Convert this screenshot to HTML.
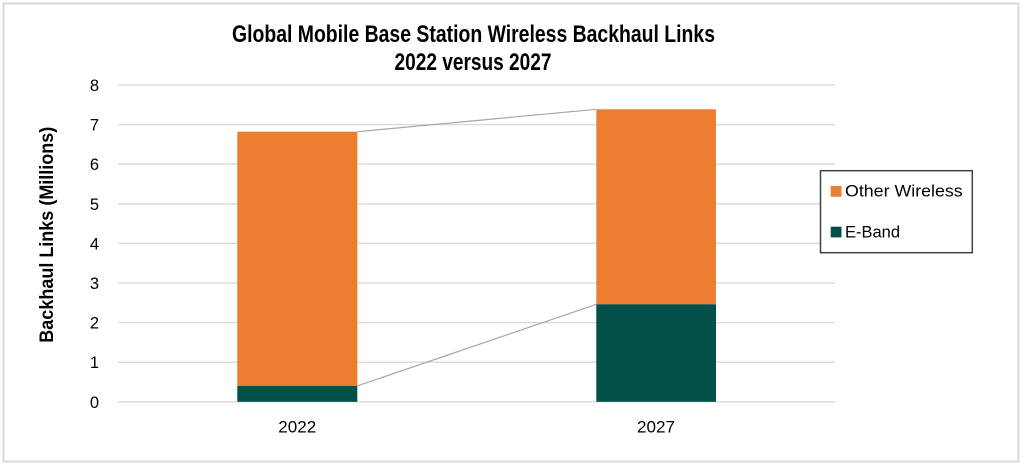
<!DOCTYPE html>
<html>
<head>
<meta charset="utf-8">
<style>
html,body{margin:0;padding:0;background:#fff;}
svg{display:block;}
text{font-family:"Liberation Sans",Arial,sans-serif;fill:#000;}
</style>
</head>
<body>
<svg width="1024" height="465" viewBox="0 0 1024 465" xmlns="http://www.w3.org/2000/svg">
  <rect x="0" y="0" width="1024" height="465" fill="#fff"/>
  <!-- outer border -->
  <rect x="3.5" y="3.5" width="1015" height="458" fill="none" stroke="#d9d9d9" stroke-width="2"/>

  <!-- title -->
  <text x="473.5" y="42" font-size="24" font-weight="bold" text-anchor="middle" textLength="483" lengthAdjust="spacingAndGlyphs">Global Mobile Base Station Wireless Backhaul Links</text>
  <text x="473" y="70" font-size="24" font-weight="bold" text-anchor="middle" textLength="157" lengthAdjust="spacingAndGlyphs">2022 versus 2027</text>

  <!-- gridlines -->
  <g stroke="#d9d9d9" stroke-width="1.3">
    <line x1="118" y1="85" x2="835" y2="85"/>
    <line x1="118" y1="124.6" x2="835" y2="124.6"/>
    <line x1="118" y1="164.2" x2="835" y2="164.2"/>
    <line x1="118" y1="203.8" x2="835" y2="203.8"/>
    <line x1="118" y1="243.4" x2="835" y2="243.4"/>
    <line x1="118" y1="283" x2="835" y2="283"/>
    <line x1="118" y1="322.6" x2="835" y2="322.6"/>
    <line x1="118" y1="362.2" x2="835" y2="362.2"/>
    <line x1="118" y1="401.8" x2="835" y2="401.8"/>
  </g>

  <!-- y tick labels -->
  <g font-size="16.5" text-anchor="end">
    <text x="99" y="91">8</text>
    <text x="99" y="130.6">7</text>
    <text x="99" y="170.2">6</text>
    <text x="99" y="209.8">5</text>
    <text x="99" y="249.4">4</text>
    <text x="99" y="289">3</text>
    <text x="99" y="328.6">2</text>
    <text x="99" y="368.2">1</text>
    <text x="99" y="407.8">0</text>
  </g>

  <!-- y axis title -->
  <text transform="translate(53,234.7) rotate(-90)" font-size="19" font-weight="bold" text-anchor="middle" textLength="216" lengthAdjust="spacingAndGlyphs">Backhaul Links (Millions)</text>

  <!-- connector lines -->
  <g stroke="#a6a6a6" stroke-width="1.2">
    <line x1="357.3" y1="131.7" x2="596.3" y2="109.3"/>
    <line x1="357.3" y1="385.9" x2="596.3" y2="304.3"/>
  </g>

  <!-- bars -->
  <rect x="237.3" y="131.7" width="120" height="254.2" fill="#ed7d31"/>
  <rect x="237.3" y="385.9" width="120" height="15.9" fill="#02504a"/>
  <rect x="596.3" y="109.3" width="119.7" height="195" fill="#ed7d31"/>
  <rect x="596.3" y="304.3" width="119.7" height="97.5" fill="#02504a"/>

  <!-- x labels -->
  <g font-size="17" text-anchor="middle">
    <text x="297.3" y="432.5" textLength="38" lengthAdjust="spacingAndGlyphs">2022</text>
    <text x="656" y="432.5" textLength="38" lengthAdjust="spacingAndGlyphs">2027</text>
  </g>

  <!-- legend -->
  <rect x="820.5" y="170.7" width="151.8" height="82" fill="#fff" stroke="#404040" stroke-width="1.5"/>
  <rect x="830.7" y="186" width="10.8" height="10.7" fill="#ed7d31"/>
  <rect x="830.7" y="226.7" width="10.8" height="10.7" fill="#02504a"/>
  <g font-size="17">
    <text x="845" y="196.7" textLength="117.7" lengthAdjust="spacingAndGlyphs">Other Wireless</text>
    <text x="845" y="237.3" textLength="55" lengthAdjust="spacingAndGlyphs">E-Band</text>
  </g>
</svg>
</body>
</html>
